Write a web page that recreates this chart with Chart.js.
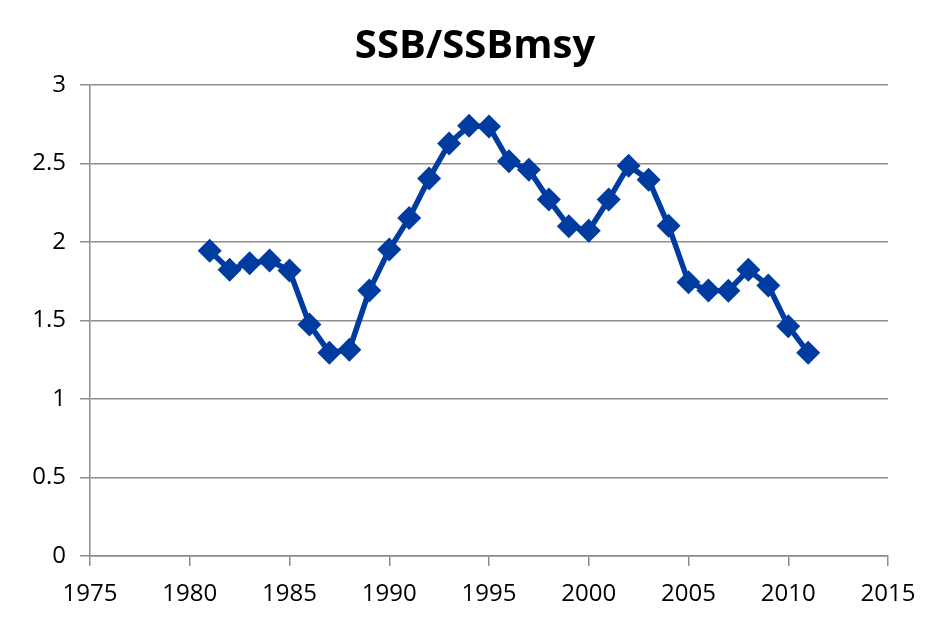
<!DOCTYPE html>
<html>
<head>
<meta charset="utf-8">
<script src="https://cdn.jsdelivr.net/npm/chart.js@4"></script>
<style>
  html, body { margin: 0; padding: 0; background: #fff; }
  .canvas-container { width: 938px; height: 622px; }
</style>
</head>
<body>
<div class="canvas-container"><canvas id="myChart"></canvas></div>
<script>
//chart data
const chartTitle = "SSB/SSBmsy";
const years = [1981, 1982, 1983, 1984, 1985, 1986, 1987, 1988, 1989, 1990,
  1991, 1992, 1993, 1994, 1995, 1996, 1997, 1998, 1999, 2000,
  2001, 2002, 2003, 2004, 2005, 2006, 2007, 2008, 2009, 2010, 2011];
const ratio = [1.945, 1.824, 1.865, 1.882, 1.818, 1.475, 1.295, 1.314, 1.691, 1.952,
  2.153, 2.405, 2.628, 2.74, 2.736, 2.515, 2.46, 2.27, 2.10, 2.072,
  2.27, 2.486, 2.397, 2.104, 1.744, 1.691, 1.69, 1.823, 1.723, 1.464, 1.295];
const xRange = [1975, 2015];
const yRange = [0, 3];

const blue = "rgb(0, 60, 160)";
const grey = "#8c8c8c";
const font = "'Open Sans', 'DejaVu Sans', sans-serif";

const data = {
  datasets: [
    {
      label: chartTitle,
      data: years.map((y, i) => ({ x: y, y: ratio[i] })),
      borderColor: blue,
      backgroundColor: blue,
      borderWidth: 5.5,
      pointStyle: "rectRot",
      pointRadius: 12,
      pointHoverRadius: 12,
      pointBorderWidth: 0,
      tension: 0,
    },
  ],
};

const config = {
  type: "line",
  data: data,
  options: {
    responsive: false,
    animation: false,
    layout: { padding: { left: 12, right: 0, top: 0, bottom: 0 } },
    plugins: {
      legend: { display: false },
      tooltip: { enabled: false },
      title: {
        display: true,
        text: chartTitle,
        color: "#000",
        font: { family: font, size: 40, weight: "bold" },
        padding: { top: 23, bottom: 14 },
      },
    },
    scales: {
      x: {
        type: "linear",
        min: xRange[0],
        max: xRange[1],
        afterFit: (axis) => { axis.height = 66; },
        ticks: {
          stepSize: 5,
          color: "#000",
          font: { family: font, size: 24 },
          padding: 14,
          maxRotation: 0,
          callback: (v) => String(v),
        },
        grid: {
          drawOnChartArea: false,
          drawTicks: true,
          tickLength: 10,
          color: grey,
          lineWidth: 1.5,
        },
        border: { color: grey, width: 1.5 },
      },
      y: {
        min: yRange[0],
        max: yRange[1],
        afterFit: (axis) => { axis.width = 78; },
        ticks: {
          stepSize: 0.5,
          color: "#000",
          font: { family: font, size: 24 },
          padding: 14,
          callback: (v) => String(v),
        },
        grid: {
          color: grey,
          lineWidth: 1.5,
          tickLength: 10,
        },
        border: { color: grey, width: 1.5 },
      },
      //empty right axis only to keep the margin on the right
      yRight: {
        position: "right",
        min: yRange[0],
        max: yRange[1],
        afterFit: (axis) => { axis.width = 50; },
        ticks: { display: false },
        grid: { display: false },
        border: { display: false },
      },
    },
  },
};

const canvas = document.getElementById("myChart");
canvas.width = 938;
canvas.height = 622;
const myChart = new Chart(canvas, config);
</script>
</body>
</html>
